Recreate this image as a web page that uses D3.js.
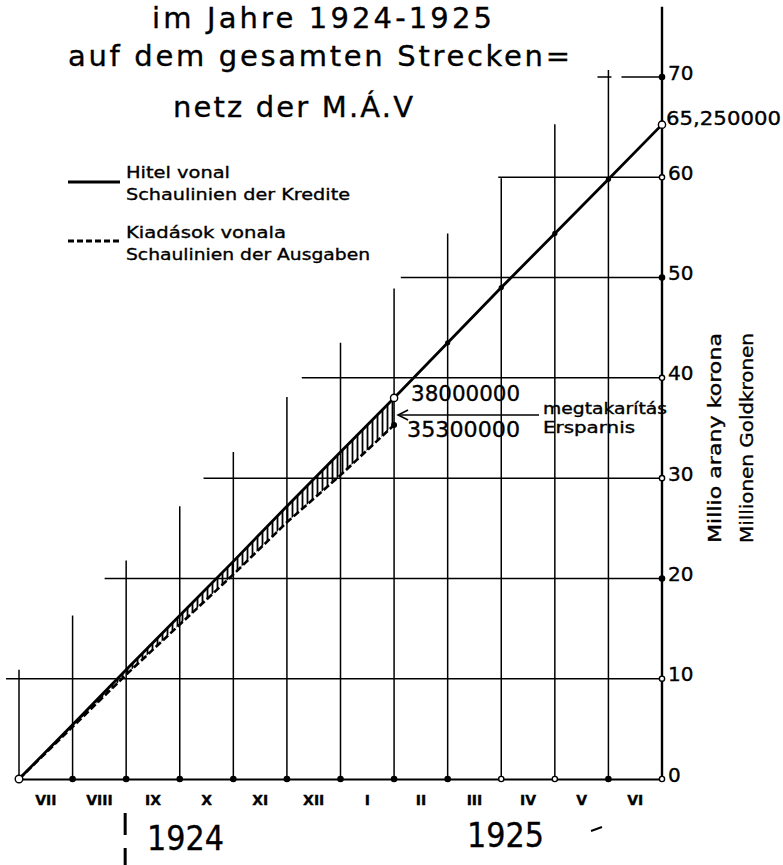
<!DOCTYPE html>
<html>
<head>
<meta charset="utf-8">
<script src="https://cdn.jsdelivr.net/npm/d3@7/dist/d3.min.js"></script>
<style>
  body { margin: 0; background: #fff; }
  svg { display: block; }
  text { font-family: "DejaVu Sans", sans-serif; fill: #000; stroke: #000; stroke-width: 0.35px; }
</style>
</head>
<body>
<div id="chart"></div>
<script>
// month boundaries: index 0 = start of VII 1924, index 12 = end of VI 1925
var months = ["VII", "VIII", "IX", "X", "XI", "XII", "I", "II", "III", "IV", "V", "VI"];
// credit line (Hitel vonal), million gold crowns at each month boundary
var credits = [0, 5.4, 10.9, 16.3, 21.7, 27.2, 32.6, 38.0, 43.5, 49.0, 54.4, 59.8, 65.25];
// expenditure line (Kiadások vonala), up to end of January
var expenses = [0, 5.2, 10.4, 15.4, 20.4, 25.6, 30.3, 35.3];
var yTicks = [0, 10, 20, 30, 40, 50, 60, 70];
var years = ["1924", "1925"];
var titleLines = ["im Jahre 1924-1925", "auf dem gesamten Strecken=", "netz der M.Á.V"];
var legendLabels = [["Hitel vonal", "Schaulinien der Kredite"], ["Kiadások vonala", "Schaulinien der Ausgaben"]];
var axisTitles = ["Millio arany korona", "Millionen Goldkronen"];
var savingLabels = ["megtakarítás", "Ersparnis"];
var endLabel = "65,250000";

var W = 783, H = 865;
var svg = d3.select("#chart").append("svg")
    .attr("width", W)
    .attr("height", H);

// scales
var x = d3.scaleLinear().domain([0, 12]).range([19, 662]);
var y = d3.scaleLinear().domain([0, 70]).range([779, 77]);
var band = d3.scaleBand().domain(months).range([19, 662]);
// month index at which the credit line reaches a value
var monthOf = d3.scaleLinear().domain(credits).range(d3.range(credits.length));
var reach = 10.9; // grid lines reach two months past the credit line

svg.append("defs").append("pattern")
    .attr("id", "hatch")
    .attr("patternUnits", "userSpaceOnUse")
    .attr("width", 5).attr("height", 10)
  .append("line")
    .attr("x1", 2.5).attr("x2", 2.5).attr("y1", 0).attr("y2", 10)
    .attr("stroke", "#000").attr("stroke-width", 1.8);

// staircase grid
var grid = svg.append("g").attr("stroke", "#000").attr("stroke-width", 1.5);
grid.selectAll("line.v")
    .data(d3.range(12))
    .enter().append("line")
    .attr("class", "v")
    .attr("x1", function(i) { return x(i); })
    .attr("x2", function(i) { return x(i); })
    .attr("y1", y(0))
    .attr("y2", function(i) { return y(credits[i] + reach); });
grid.selectAll("line.h")
    .data(yTicks.slice(1))
    .enter().append("line")
    .attr("class", "h")
    .attr("x1", function(v) { return x(monthOf(v - reach)) - 4; })
    .attr("x2", x(12))
    .attr("y1", function(v) { return y(v); })
    .attr("y2", function(v) { return y(v); })
    .attr("stroke-dasharray", function(v) { return v === 70 ? "14,10,200" : null; });

// right axis line up to the top
svg.append("line")
    .attr("x1", x(12)).attr("x2", x(12))
    .attr("y1", y(0)).attr("y2", y(77))
    .attr("stroke", "#000").attr("stroke-width", 2.4);

// saving band (hatched) between credits and expenses
var saving = expenses.map(function(e, i) { return { i: i, c: credits[i], e: e }; });
svg.append("path")
    .datum(saving)
    .attr("fill", "url(#hatch)")
    .attr("d", d3.area()
        .x(function(d) { return x(d.i); })
        .y0(function(d) { return y(d.e); })
        .y1(function(d) { return y(d.c); }));

// expenditure line, dashed
svg.append("path")
    .datum(expenses)
    .attr("fill", "none")
    .attr("stroke", "#000")
    .attr("stroke-width", 2.6)
    .attr("stroke-dasharray", "7,3")
    .attr("d", d3.line()
        .x(function(d, i) { return x(i); })
        .y(function(d) { return y(d); }));

// credit line
svg.append("path")
    .datum(credits)
    .attr("fill", "none")
    .attr("stroke", "#000")
    .attr("stroke-width", 2.8)
    .attr("d", d3.line()
        .x(function(d, i) { return x(i); })
        .y(function(d) { return y(d); }));

svg.selectAll("circle.cdot")
    .data(credits.slice(8, 12))
    .enter().append("circle")
    .attr("class", "cdot")
    .attr("cx", function(d, i) { return x(i + 8); })
    .attr("cy", function(d) { return y(d); })
    .attr("r", 2.6);

// bottom axis: month names between boundaries, baseline as domain
var xAxis = svg.append("g")
    .attr("transform", "translate(0," + y(0) + ")")
    .call(d3.axisBottom(band).tickSize(0).tickSizeOuter(0).tickPadding(16));
xAxis.select(".domain").attr("stroke", "#000").attr("stroke-width", 2);
xAxis.selectAll("text")
    .attr("font-family", "'DejaVu Sans Condensed', 'DejaVu Sans', sans-serif")
    .attr("font-weight", "bold")
    .attr("font-size", 14)
    .attr("fill", "#000");

var openBase = [0, 9, 10, 12];
svg.selectAll("circle.bdot")
    .data(d3.range(13))
    .enter().append("circle")
    .attr("class", "bdot")
    .attr("cx", function(i) { return x(i); })
    .attr("cy", y(0))
    .attr("r", function(i) { return i === 0 ? 3.8 : 2.6; })
    .attr("fill", function(i) { return openBase.indexOf(i) >= 0 ? "#fff" : "#000"; })
    .attr("stroke", "#000").attr("stroke-width", 1.4);

// right axis labels
var yAxis = svg.append("g")
    .attr("transform", "translate(" + x(12) + ",0)")
    .call(d3.axisRight(y).tickValues(yTicks).tickSize(0).tickPadding(6));
yAxis.select(".domain").remove();
yAxis.selectAll("text")
    .attr("font-family", "'DejaVu Sans', sans-serif")
    .attr("font-size", 20)
    .attr("dy", "0.1em")
    .attr("fill", "#000");

var openTick = [10, 30, 40, 60];
svg.selectAll("circle.ydot")
    .data(yTicks.slice(1))
    .enter().append("circle")
    .attr("class", "ydot")
    .attr("cx", x(12))
    .attr("cy", function(v) { return y(v); })
    .attr("r", 2.6)
    .attr("fill", function(v) { return openTick.indexOf(v) >= 0 ? "#fff" : "#000"; })
    .attr("stroke", "#000").attr("stroke-width", 1.4);

// end point and January values
var last = credits.length - 1, jan = expenses.length - 1;
svg.append("circle")
    .attr("cx", x(last)).attr("cy", y(credits[last])).attr("r", 3.6)
    .attr("fill", "#fff").attr("stroke", "#000").attr("stroke-width", 1.4);
svg.append("text")
    .attr("x", x(last) + 4).attr("y", y(credits[last]))
    .attr("font-size", 20)
    .attr("textLength", 115).attr("lengthAdjust", "spacingAndGlyphs")
    .text(endLabel);

svg.append("circle")
    .attr("cx", x(jan)).attr("cy", y(credits[jan])).attr("r", 3.6)
    .attr("fill", "#fff").attr("stroke", "#000").attr("stroke-width", 1.4);
svg.append("circle")
    .attr("cx", x(jan)).attr("cy", y(expenses[jan])).attr("r", 3)
    .attr("fill", "#000");
svg.append("text")
    .attr("x", x(jan) + 17).attr("y", y(credits[jan]) + 3)
    .attr("font-size", 22)
    .attr("textLength", 109).attr("lengthAdjust", "spacingAndGlyphs")
    .text(d3.format("d")(credits[jan] * 1e6));
svg.append("text")
    .attr("x", x(jan) + 13).attr("y", y(expenses[jan]) + 12)
    .attr("font-size", 22)
    .attr("textLength", 113).attr("lengthAdjust", "spacingAndGlyphs")
    .text(d3.format("d")(expenses[jan] * 1e6));

// saving arrow pointing at the gap, and its label
var ay = 415, ax = x(jan) + 4;
svg.append("line")
    .attr("x1", ax + 2).attr("x2", 539)
    .attr("y1", ay).attr("y2", ay)
    .attr("stroke", "#000").attr("stroke-width", 1.6);
svg.append("path")
    .attr("d", "M" + (ax + 10) + "," + (ay - 5) + " L" + ax + "," + ay + " L" + (ax + 10) + "," + (ay + 5))
    .attr("fill", "none").attr("stroke", "#000").attr("stroke-width", 1.6);
svg.selectAll("text.save")
    .data(savingLabels)
    .enter().append("text")
    .attr("class", "save")
    .attr("x", 543)
    .attr("y", function(d, i) { return 414 + i * 19; })
    .attr("font-size", 15)
    .attr("textLength", function(d, i) { return i === 0 ? 124 : 92; })
    .attr("lengthAdjust", "spacingAndGlyphs")
    .text(function(d) { return d; });

// title
var titleBox = [[152, 28, 340], [68, 66, 502], [173, 117, 240]];
svg.selectAll("text.title")
    .data(titleLines)
    .enter().append("text")
    .attr("class", "title")
    .attr("x", function(d, i) { return titleBox[i][0]; })
    .attr("y", function(d, i) { return titleBox[i][1]; })
    .attr("font-size", 29)
    .attr("textLength", function(d, i) { return titleBox[i][2]; })
    .attr("lengthAdjust", "spacing")
    .text(function(d) { return d; });

// legend
var legend = svg.append("g");
legend.selectAll("line")
    .data(legendLabels)
    .enter().append("line")
    .attr("x1", 68).attr("x2", 120)
    .attr("y1", function(d, i) { return 182 + i * 59; })
    .attr("y2", function(d, i) { return 182 + i * 59; })
    .attr("stroke", "#000").attr("stroke-width", 3)
    .attr("stroke-dasharray", function(d, i) { return i ? "6,3" : null; });
legend.selectAll("g")
    .data(legendLabels)
    .enter().append("g")
    .each(function(pair, i) {
        d3.select(this).selectAll("text")
            .data(pair)
            .enter().append("text")
            .attr("x", 126)
            .attr("y", function(d, j) { return 178 + i * 60 + j * 22; })
            .attr("font-size", 16)
            .attr("textLength", function(d, j) { return [[104, 224], [160, 244]][i][j]; })
            .attr("lengthAdjust", "spacingAndGlyphs")
            .text(function(d) { return d; });
    });

// axis titles on the right, read bottom to top
svg.selectAll("text.atitle")
    .data(axisTitles)
    .enter().append("text")
    .attr("class", "atitle")
    .attr("transform", function(d, i) { return "translate(" + (715 + i * 32) + ",438) rotate(-90)"; })
    .attr("text-anchor", "middle")
    .attr("dy", "0.35em")
    .attr("font-size", 17)
    .attr("textLength", 210)
    .attr("lengthAdjust", "spacingAndGlyphs")
    .text(function(d) { return d; });

// years
var yearPos = [[147, 850], [467, 847]];
svg.selectAll("text.year")
    .data(years)
    .enter().append("text")
    .attr("class", "year")
    .attr("x", function(d, i) { return yearPos[i][0]; })
    .attr("y", function(d, i) { return yearPos[i][1]; })
    .attr("font-size", 34)
    .attr("textLength", 77)
    .attr("lengthAdjust", "spacingAndGlyphs")
    .text(function(d) { return d; });

// stray pen marks under the axis
svg.append("line")
    .attr("x1", x(2) - 1).attr("x2", x(2) - 1)
    .attr("y1", 813).attr("y2", 865)
    .attr("stroke", "#000").attr("stroke-width", 3)
    .attr("stroke-dasharray", "22,13");
svg.append("line")
    .attr("x1", 591).attr("x2", 602)
    .attr("y1", 831).attr("y2", 827)
    .attr("stroke", "#000").attr("stroke-width", 2);
</script>
</body>
</html>
